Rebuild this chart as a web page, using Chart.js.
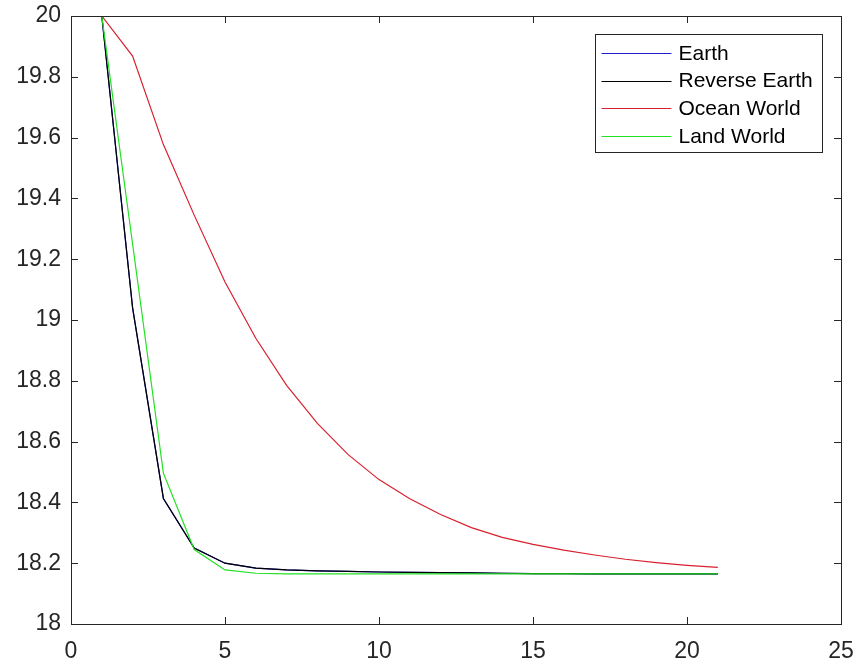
<!DOCTYPE html>
<html>
<head>
<meta charset="utf-8">
<title>Chart</title>
<script src="https://cdn.jsdelivr.net/npm/chart.js@4.4.1/dist/chart.umd.min.js"></script>
<style>
    html, body { margin: 0; padding: 0; background: #ffffff; }
    #wrap { width: 859px; height: 664px; }
</style>
</head>
<body>
<div id="wrap"><canvas id="chart" width="859" height="664"></canvas></div>
<script>
// Data
const steps = [1, 2, 3, 4, 5, 6, 7, 8, 9, 10, 11, 12, 13, 14, 15, 16, 17, 18, 19, 20, 21];

const earth        = [20, 19.04, 18.413, 18.25, 18.2, 18.184, 18.178, 18.175, 18.173, 18.171, 18.17, 18.169, 18.168, 18.167, 18.166, 18.166, 18.165, 18.165, 18.165, 18.165, 18.165];
const reverseEarth = [20, 19.04, 18.413, 18.25, 18.2, 18.184, 18.178, 18.175, 18.173, 18.171, 18.17, 18.169, 18.168, 18.167, 18.166, 18.166, 18.165, 18.165, 18.165, 18.165, 18.165];
const oceanWorld   = [20, 19.868, 19.577, 19.345, 19.125, 18.94, 18.785, 18.66, 18.557, 18.475, 18.412, 18.36, 18.317, 18.285, 18.262, 18.243, 18.227, 18.213, 18.202, 18.193, 18.186];
const landWorld    = [20, 19.25, 18.496, 18.245, 18.178, 18.167, 18.165, 18.165, 18.165, 18.165, 18.165, 18.165, 18.165, 18.165, 18.165, 18.165, 18.165, 18.165, 18.165, 18.165, 18.165];

const seriesNames = ['Earth', 'Reverse Earth', 'Ocean World', 'Land World'];

const xTicks = [0, 5, 10, 15, 20, 25];
const yTicks = [18, 18.2, 18.4, 18.6, 18.8, 19, 19.2, 19.4, 19.6, 19.8, 20];

const FONT = "'Liberation Sans', Arial, Helvetica, sans-serif";
const AXIS_COLOR = '#262626';

function toPoints(values) {
    return steps.map((s, i) => ({ x: s, y: values[i] }));
}

// Box, inward ticks on all four sides (MATLAB style)
const boxAxes = {
    id: 'boxAxes',
    afterDatasetsDraw(chart) {
        const { ctx, chartArea: a, scales } = chart;
        const len = 7;
        ctx.save();
        ctx.strokeStyle = AXIS_COLOR;
        ctx.lineWidth = 1;
        ctx.beginPath();
        scales.x.ticks.forEach(t => {
            const px = Math.round(scales.x.getPixelForValue(t.value)) + 0.5;
            if (t.value === xTicks[0] || t.value === xTicks[xTicks.length - 1]) return;
            ctx.moveTo(px, a.bottom); ctx.lineTo(px, a.bottom - len);
            ctx.moveTo(px, a.top); ctx.lineTo(px, a.top + len);
        });
        scales.y.ticks.forEach(t => {
            const py = Math.round(scales.y.getPixelForValue(t.value)) + 0.5;
            ctx.moveTo(a.left, py); ctx.lineTo(a.left + len, py);
            ctx.moveTo(a.right, py); ctx.lineTo(a.right - len, py);
        });
        ctx.stroke();
        ctx.strokeRect(Math.round(a.left) + 0.5, Math.round(a.top) + 0.5,
            Math.round(a.right - a.left), Math.round(a.bottom - a.top));
        ctx.restore();
    }
};

// Legend drawn inside the axes, top right
const insideLegend = {
    id: 'insideLegend',
    afterDraw(chart) {
        const { ctx, chartArea: a } = chart;
        const sets = chart.data.datasets;
        const fontSize = 21;
        const rowH = 27.8;
        const lineLen = 70;
        ctx.save();
        ctx.font = fontSize + 'px ' + FONT;
        const textW = Math.max(...sets.map(d => ctx.measureText(d.label).width));
        const w = 6 + lineLen + 7 + textW + 10;
        const h = 18.3 + rowH * (sets.length - 1) + 16.6;
        const x0 = Math.round(a.right - 19 - w) + 0.5;
        const y0 = Math.round(a.top + 18) + 0.5;
        ctx.fillStyle = '#ffffff';
        ctx.fillRect(x0, y0, w, h);
        ctx.strokeStyle = AXIS_COLOR;
        ctx.lineWidth = 1;
        ctx.strokeRect(x0, y0, Math.round(w), Math.round(h));
        ctx.textBaseline = 'middle';
        ctx.textAlign = 'left';
        sets.forEach((d, i) => {
            const cy = y0 + 18.3 + i * rowH;
            ctx.strokeStyle = d.borderColor;
            ctx.beginPath();
            ctx.moveTo(x0 + 6, Math.round(cy) + 0.5);
            ctx.lineTo(x0 + 6 + lineLen, Math.round(cy) + 0.5);
            ctx.stroke();
            ctx.fillStyle = '#000000';
            ctx.fillText(d.label, x0 + 6 + lineLen + 7, cy + 1);
        });
        ctx.restore();
    }
};

function makeSet(label, values, color, order) {
    return {
        label: label,
        data: toPoints(values),
        borderColor: color,
        backgroundColor: color,
        borderWidth: 1.2,
        pointRadius: 0,
        tension: 0,
        fill: false,
        order: order
    };
}

const ctx = document.getElementById('chart').getContext('2d');
new Chart(ctx, {
    type: 'line',
    data: {
        datasets: [
            makeSet(seriesNames[0], earth, '#1f1fd0', 4),
            makeSet(seriesNames[1], reverseEarth, '#000000', 3),
            makeSet(seriesNames[2], oceanWorld, '#d8202e', 2),
            makeSet(seriesNames[3], landWorld, '#22e022', 1)
        ]
    },
    options: {
        responsive: false,
        animation: false,
        layout: { padding: { top: 16, right: 18, left: 0, bottom: 0 } },
        plugins: {
            legend: { display: false },
            tooltip: { enabled: false }
        },
        scales: {
            x: {
                type: 'linear',
                min: xTicks[0],
                max: xTicks[xTicks.length - 1],
                afterBuildTicks: scale => { scale.ticks = xTicks.map(v => ({ value: v })); },
                afterFit: scale => {
                    scale.height = 40;
                    scale.paddingLeft = 0;
                    scale.paddingRight = 0;
                },
                grid: { display: false, drawTicks: false },
                border: { display: false },
                ticks: {
                    color: '#262626',
                    padding: 14,
                    maxRotation: 0,
                    font: { family: FONT, size: 23 },
                    callback: v => String(v)
                }
            },
            y: {
                type: 'linear',
                min: yTicks[0],
                max: yTicks[yTicks.length - 1],
                afterBuildTicks: scale => { scale.ticks = yTicks.map(v => ({ value: v })); },
                afterFit: scale => {
                    scale.width = 71;
                    scale.paddingTop = 0;
                    scale.paddingBottom = 0;
                },
                grid: { display: false, drawTicks: false },
                border: { display: false },
                ticks: {
                    color: '#262626',
                    padding: 10,
                    font: { family: FONT, size: 23 },
                    callback: v => String(v)
                }
            }
        }
    },
    plugins: [boxAxes, insideLegend]
});
</script>
</body>
</html>
